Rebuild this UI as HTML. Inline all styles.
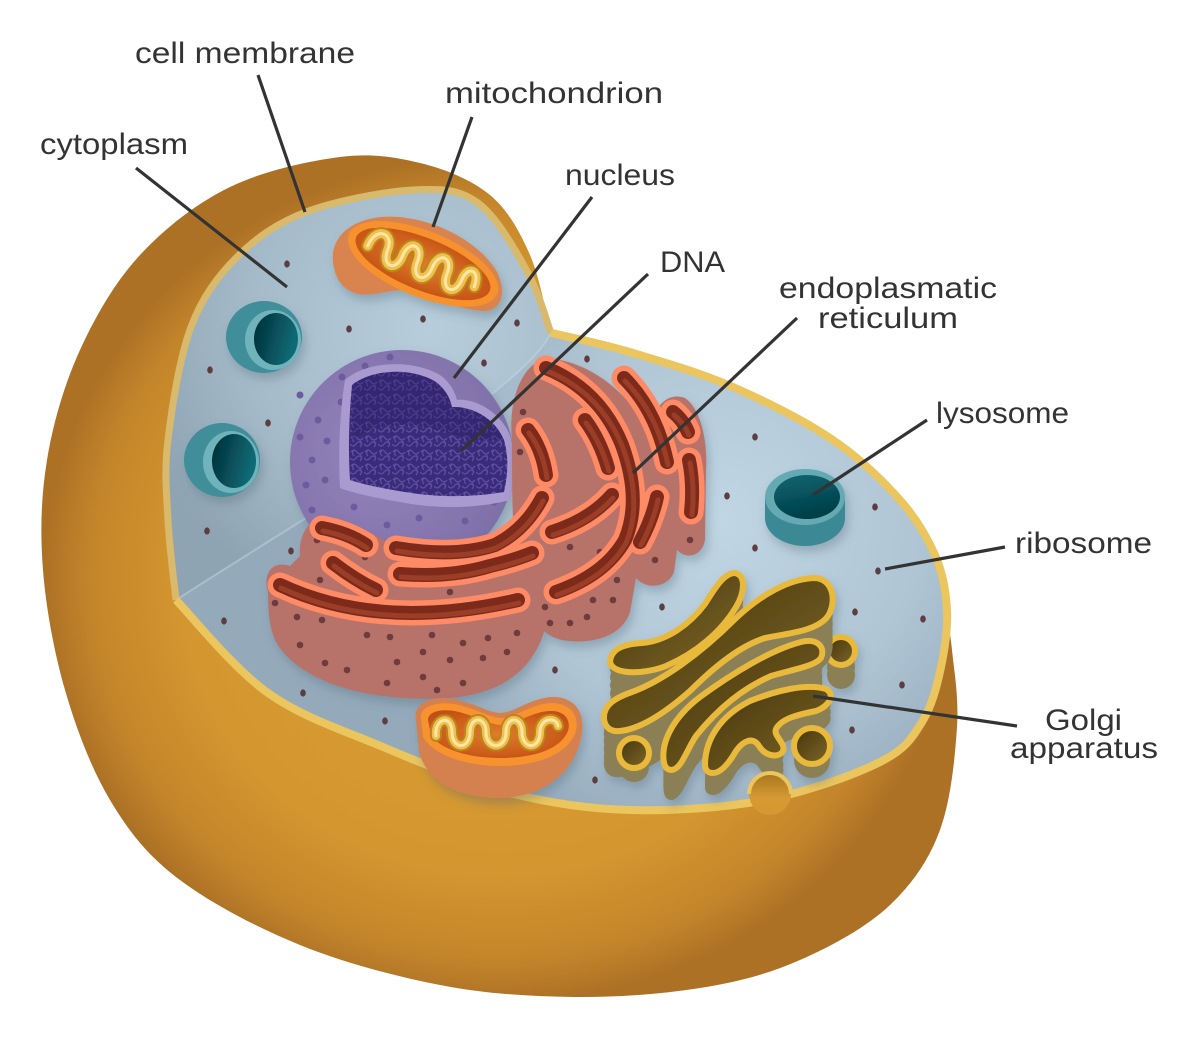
<!DOCTYPE html>
<html><head><meta charset="utf-8"><style>
html,body{margin:0;padding:0;background:#fff;}
svg{display:block;}
text{font-family:"Liberation Sans",sans-serif;font-size:30px;fill:#333;}
.ld{stroke:#333;stroke-width:3.2;fill:none;}
.erRim{fill:none;stroke:#ff8a66;stroke-width:25;stroke-linecap:round;stroke-linejoin:round;}
.erCh{fill:none;stroke:#7e2a1b;stroke-width:14;stroke-linecap:round;stroke-linejoin:round;}
.erCh2{fill:none;stroke:#a3432a;stroke-width:5;stroke-linecap:round;stroke-linejoin:round;opacity:0.8;}
.gw{fill:#8b7f57;}
.go{fill:url(#golgiIn);stroke:#e9b93a;stroke-width:6;}
</style></head><body>
<svg width="1200" height="1038" viewBox="0 0 1200 1038" xmlns="http://www.w3.org/2000/svg">
<defs>
 <radialGradient id="shellG" gradientUnits="userSpaceOnUse" cx="500" cy="578" r="456" gradientTransform="translate(500,578) scale(1,0.93) translate(-500,-578)">
  <stop offset="0" stop-color="#dc9e32"/>
  <stop offset="0.7" stop-color="#d4962f"/>
  <stop offset="0.9" stop-color="#c3852a"/>
  <stop offset="1" stop-color="#ad7126"/>
 </radialGradient>
 <radialGradient id="vertG" gradientUnits="userSpaceOnUse" cx="430" cy="330" r="300">
  <stop offset="0" stop-color="#b7cddb"/>
  <stop offset="0.6" stop-color="#a5bbca"/>
  <stop offset="1" stop-color="#8ea4b3"/>
 </radialGradient>
 <radialGradient id="horG" gradientUnits="userSpaceOnUse" cx="720" cy="520" r="340">
  <stop offset="0" stop-color="#c0d6e4"/>
  <stop offset="0.6" stop-color="#afc5d4"/>
  <stop offset="1" stop-color="#94aabb"/>
 </radialGradient>
 <linearGradient id="vesIn" x1="0" y1="0" x2="1" y2="0.3">
  <stop offset="0" stop-color="#002c35"/>
  <stop offset="1" stop-color="#0e6b76"/>
 </linearGradient>
 <linearGradient id="lysIn" x1="0" y1="0" x2="0.3" y2="1">
  <stop offset="0" stop-color="#0b6671"/>
  <stop offset="1" stop-color="#033f49"/>
 </linearGradient>
 <linearGradient id="golgiIn" x1="0" y1="0" x2="1" y2="1">
  <stop offset="0" stop-color="#463407"/>
  <stop offset="1" stop-color="#7d682c"/>
 </linearGradient>
 <radialGradient id="mitoIn" cx="0.5" cy="0.5" r="0.6">
  <stop offset="0" stop-color="#e27a2c"/>
  <stop offset="1" stop-color="#c24f12"/>
 </radialGradient>
 <radialGradient id="nucG" cx="0.4" cy="0.45" r="0.6">
  <stop offset="0" stop-color="#9585bd"/>
  <stop offset="1" stop-color="#8070a9"/>
 </radialGradient>
 <linearGradient id="bumpG" x1="0" y1="0" x2="0" y2="1">
  <stop offset="0" stop-color="#a8761e"/>
  <stop offset="0.6" stop-color="#d59a33"/>
  <stop offset="1" stop-color="#d6982f"/>
 </linearGradient>
 <pattern id="dna" width="14" height="14" patternUnits="userSpaceOnUse">
  <rect width="14" height="14" fill="#3b2c7a"/>
  <path d="M1,4 q3,-4 6,0 t6,0 M0,10 q3,4 6,0 t6,0 M4,2 q-3,3 0,6 M10,7 q3,3 0,6" stroke="#5d4fa4" stroke-width="1.3" fill="none"/>
 </pattern>
 <filter id="sh" x="-20%" y="-20%" width="140%" height="140%">
  <feDropShadow dx="3" dy="6" stdDeviation="5" flood-color="#4f6777" flood-opacity="0.35"/>
 </filter>
 <path id="erc" d="M322,528 Q348,533 366,545 M396,548 Q455,558 495,545 Q525,530 542,498 M333,563 Q355,580 376,590 M400,574 Q450,578 490,566 Q515,560 532,553 M280,585 Q380,632 518,600 M546,368 Q600,390 622,445 Q642,500 625,540 Q605,575 556,592 M528,430 Q542,448 546,475 M585,420 Q600,440 608,468 M552,532 Q590,520 612,495 M624,378 Q656,410 667,462 M673,412 Q683,420 688,432 M689,460 Q694,485 691,512 M657,497 Q652,520 640,542"/>
 <path id="gT1" d="M610,662 C611,648 625,644 642,643 C667,641 690,624 705,604 C715,588 724,573 735,573 C746,575 745,592 736,607 C721,632 696,653 666,666 C646,674 613,676 610,662 Z"/>
 <path id="gT2" d="M604,719 C603,705 615,698 632,692 C662,681 700,654 734,620 C760,595 790,578 816,578 C833,580 837,601 828,616 C817,631 790,633 765,638 C740,646 715,666 690,691 C665,713 640,729 620,731 C610,732 605,727 604,719 Z"/>
 <path id="gT3" d="M664,763 C660,741 675,716 700,697 C730,675 770,650 801,642 C816,638 826,646 821,658 C815,666 795,669 771,676 C741,689 716,711 696,736 C686,751 682,768 672,770 C667,770 665,767 664,763 Z"/>
 <path id="gT4" d="M705,765 C705,740 720,716 750,701 C775,691 806,683 826,689 C836,695 829,706 816,711 C796,715 781,719 776,729 C773,736 786,743 783,751 C779,758 766,757 759,746 C753,736 743,741 736,751 C729,763 721,773 713,773 C708,773 705,770 705,765 Z"/>
 <circle id="gA" cx="634" cy="753" r="15"/>
 <circle id="gB" cx="841" cy="651" r="14"/>
 <circle id="gC" cx="812" cy="746" r="18"/>
</defs>

<rect width="1200" height="1038" fill="#fff"/>

<!-- outer shell -->
<path fill="url(#shellG)" d="M551,333 C547.5,320 540,278 530,255 C520,232 508,210 490,195 C472,180 445,169 420,163 C395,157 372,153 340,157 C308,161 263,171 230,187 C197,203 165,228 140,255 C115,282 95.5,316 80,350 C64.5,384 53,423 47,460 C41,497 40,532 43,570 C46,608 54,652 65,690 C76,728 91,768 110,800 C129,832 148,856 180,880 C212,904 257,927.5 300,945 C343,962.5 394,976 440,985 C486,994 531,996.5 574,997 C617,997.5 662,994 700,988 C738,982 768,974 800,960 C832,946 867,927 890,905 C913,883 929,860 940,830 C951,800 955,757 957,727 C959,697 954,670 952,650 C950,630 946,612 945,605 L947,610 C946,591 943,573 935,555 C927,537 917,519 900,500 C883,481 861,459 833,440 C805,421 766,401.5 733,387 C700,372.5 663,362 633,353 C603,344 565,336 551,333 Z"/>

<!-- interior: horizontal plane (whole) -->
<path fill="url(#horG)" d="M176,600 C174.7,586.7 169.3,546.7 168,520 C166.7,493.3 164,472 168,440 C171.8,408 179.5,357.5 191,327 C202.5,296.5 218,276 237,257 C256,238 277,223 306,212 C335,201 384,191.5 413,190 C441.7,188.5 459,189 478,203 C497,217 516,251 528,273 C540,295 547,323 551,333 C565,336 603,344 633,353 C663,362 700,372.5 733,387 C766,401.5 805,421 833,440 C861,459 883,481 900,500 C917,519 927,537 935,555 C943,573 946,591 947,610 C948,629 945,648 941,667 C937,686 932,706 922,722 C912,738 906,749 880,762 C854,775 806.5,792 765,800 C723.5,808 673.5,811 631,810 C588.5,809 551,803.5 510,793 C469,782.5 423,764 383,747 C343,730 302.5,717.5 268,693 C233.5,668.5 191,615.5 176,600 Z"/>
<!-- vertical plane -->
<path fill="url(#vertG)" d="M176,600 C174.7,586.7 169.3,546.7 168,520 C166.7,493.3 164,472 168,440 C171.8,408 179.5,357.5 191,327 C202.5,296.5 218,276 237,257 C256,238 277,223 306,212 C335,201 384,191.5 413,190 C441.7,188.5 459,189 478,203 C497,217 516,251 528,273 C540,295 547,323 551,333 C520,395 330,500 176,600 Z"/>
<path d="M551,333 C520,395 330,500 176,600" fill="none" stroke="#c6d9e6" stroke-width="2" opacity="0.45"/>

<!-- membranes -->
<path fill="none" stroke="#d9b96b" stroke-width="7" d="M176,600 C174.7,586.7 169.3,546.7 168,520 C166.7,493.3 164,472 168,440 C171.8,408 179.5,357.5 191,327 C202.5,296.5 218,276 237,257 C256,238 277,223 306,212 C335,201 384,191.5 413,190 C441.7,188.5 459,189 478,203 C497,217 516,251 528,273 C540,295 547,323 551,333"/>
<path fill="none" stroke="#ebc55e" stroke-width="8" d="M551,333 C565,336 603,344 633,353 C663,362 700,372.5 733,387 C766,401.5 805,421 833,440 C861,459 883,481 900,500 C917,519 927,537 935,555 C943,573 946,591 947,610 C948,629 945,648 941,667 C937,686 932,706 922,722 C912,738 906,749 880,762 C854,775 806.5,792 765,800 C723.5,808 673.5,811 631,810 C588.5,809 551,803.5 510,793 C469,782.5 423,764 383,747 C343,730 302.5,717.5 268,693 C233.5,668.5 191,615.5 176,600"/>

<!-- ribosomes -->
<g fill="#5c3d40">
 <ellipse cx="287" cy="264" rx="2.8" ry="3.6"/><ellipse cx="423" cy="319" rx="2.8" ry="3.6"/>
 <ellipse cx="349" cy="329" rx="2.8" ry="3.6"/><ellipse cx="517" cy="323" rx="2.8" ry="3.6"/>
 <ellipse cx="210" cy="370" rx="2.8" ry="3.6"/><ellipse cx="484" cy="363" rx="2.8" ry="3.6"/>
 <ellipse cx="268" cy="423" rx="2.8" ry="3.6"/><ellipse cx="207" cy="531" rx="2.8" ry="3.6"/>
 <ellipse cx="291" cy="551" rx="2.8" ry="3.6"/><ellipse cx="587" cy="359" rx="2.8" ry="3.6"/>
 <ellipse cx="755" cy="437" rx="2.8" ry="3.6"/><ellipse cx="727" cy="496" rx="2.8" ry="3.6"/>
 <ellipse cx="875" cy="507" rx="2.8" ry="3.6"/><ellipse cx="755" cy="548" rx="2.8" ry="3.6"/>
 <ellipse cx="878" cy="571" rx="2.8" ry="3.6"/><ellipse cx="662" cy="607" rx="2.8" ry="3.6"/>
 <ellipse cx="855" cy="612" rx="2.8" ry="3.6"/><ellipse cx="923" cy="619" rx="2.8" ry="3.6"/>
 <ellipse cx="555" cy="670" rx="2.8" ry="3.6"/><ellipse cx="902" cy="685" rx="2.8" ry="3.6"/>
 <ellipse cx="852" cy="730" rx="2.8" ry="3.6"/><ellipse cx="595" cy="780" rx="2.8" ry="3.6"/>
 <ellipse cx="224" cy="621" rx="2.8" ry="3.6"/><ellipse cx="303" cy="693" rx="2.8" ry="3.6"/>
 <ellipse cx="385" cy="721" rx="2.8" ry="3.6"/>
</g>

<!-- left vesicles -->
<g filter="url(#sh)">
 <ellipse cx="264" cy="337" rx="38" ry="36" fill="#3f8e99"/>
 <ellipse cx="273" cy="340" rx="28" ry="30" fill="#6fb3bb"/>
 <ellipse cx="276" cy="339" rx="22" ry="26" fill="url(#vesIn)"/>
 <ellipse cx="222" cy="460" rx="38" ry="37" fill="#3f8e99"/>
 <ellipse cx="231" cy="462" rx="28" ry="31" fill="#6fb3bb"/>
 <ellipse cx="234" cy="461" rx="22" ry="27" fill="url(#vesIn)"/>
</g>

<!-- top mitochondrion -->
<g filter="url(#sh)">
 <path fill="#d9844f" d="M333,262 C330,232 360,214 398,217 C440,220 482,245 497,272 C507,292 502,312 482,311 C460,309 440,300 418,292 C395,286 378,297 358,294 C342,290 335,278 333,262 Z"/>
 <g transform="translate(423,264) rotate(22)">
  <ellipse cx="0" cy="0" rx="80" ry="33" fill="#f7912f"/>
  <ellipse cx="0" cy="0" rx="72" ry="26" fill="url(#mitoIn)"/>
  <path d="M-58,4 C-58,-18 -38,-18 -38,0 C-38,18 -22,18 -22,0 C-22,-18 -6,-18 -6,0 C-6,18 10,18 10,0 C10,-18 26,-18 26,0 C26,18 42,18 42,0 C42,-16 56,-16 56,2" fill="none" stroke="#b9861f" stroke-width="13" stroke-linecap="round"/>
  <path d="M-58,4 C-58,-18 -38,-18 -38,0 C-38,18 -22,18 -22,0 C-22,-18 -6,-18 -6,0 C-6,18 10,18 10,0 C10,-18 26,-18 26,0 C26,18 42,18 42,0 C42,-16 56,-16 56,2" fill="none" stroke="#f2bf4f" stroke-width="9" stroke-linecap="round"/>
  <path d="M-58,4 C-58,-18 -38,-18 -38,0 C-38,18 -22,18 -22,0 C-22,-18 -6,-18 -6,0 C-6,18 10,18 10,0 C10,-18 26,-18 26,0 C26,18 42,18 42,0 C42,-16 56,-16 56,2" fill="none" stroke="#fde6a4" stroke-width="3" stroke-linecap="round"/>
 </g>
</g>

<!-- nucleus -->
<g filter="url(#sh)">
 <circle cx="402" cy="462" r="112" fill="url(#nucG)"/>
</g>
<g fill="#6d5b9e">
 <circle cx="365" cy="366" r="3.5"/><circle cx="390" cy="357" r="3.5"/><circle cx="342" cy="377" r="3.5"/>
 <circle cx="341" cy="402" r="3.5"/><circle cx="318" cy="420" r="3.5"/><circle cx="327" cy="441" r="3.5"/>
 <circle cx="300" cy="437" r="3.5"/><circle cx="312" cy="460" r="3.5"/><circle cx="325" cy="480" r="3.5"/>
 <circle cx="306" cy="485" r="3.5"/><circle cx="354" cy="507" r="3.5"/><circle cx="419" cy="518" r="3.5"/>
 <circle cx="465" cy="521" r="3.5"/><circle cx="494" cy="502" r="3.5"/><circle cx="387" cy="525" r="3.5"/>
 <circle cx="344" cy="530" r="3.5"/><circle cx="312" cy="510" r="3.5"/><circle cx="300" cy="395" r="3.5"/>
</g>
<path fill="#a99ad0" d="M345,380 C365,362 410,358 440,375 C450,382 455,392 457,400 C475,398 500,412 510,435 C516,455 515,480 510,500 C480,508 440,510 400,502 C370,497 350,492 340,488 C338,450 340,410 345,380 Z"/>
<path fill="url(#dna)" d="M352,385 C370,370 410,366 436,382 C446,390 450,398 452,407 C472,406 495,418 504,440 C509,457 508,475 504,492 C475,497 440,498 405,492 C380,488 362,484 350,480 C348,450 349,415 352,385 Z"/>
<path fill="#2a1d60" opacity="0.35" d="M352,385 C370,370 410,366 436,382 C446,390 450,398 452,407 C472,406 495,418 504,440 L470,440 C420,420 380,420 352,440 Z"/>

<!-- ER -->
<g filter="url(#sh)">
 <path fill="#b7736a" d="M512,440 C508,400 522,362 548,358 C590,362 628,392 648,430 C655,405 668,392 685,398 C700,408 708,440 706,470 L705,540 C702,556 687,560 677,550 L674,572 C668,588 646,590 636,578 L630,612 C622,638 588,645 562,640 C535,634 522,605 516,565 C512,525 512,480 512,440 Z"/>
 <path fill="#b7736a" d="M268,592 C262,572 274,560 290,566 L300,556 C298,530 313,514 335,518 C352,522 372,533 386,541 C402,536 468,546 498,530 C520,518 534,494 546,484 L550,600 C546,652 520,692 450,698 C370,703 300,683 276,642 C269,628 268,608 268,592 Z"/>
</g>
<g fill="#6e3c3d">
 <circle cx="275" cy="603" r="3.3"/><circle cx="297" cy="617" r="3.3"/><circle cx="322" cy="620" r="3.3"/>
 <circle cx="300" cy="645" r="3.3"/><circle cx="325" cy="663" r="3.3"/><circle cx="347" cy="670" r="3.3"/>
 <circle cx="367" cy="635" r="3.3"/><circle cx="390" cy="637" r="3.3"/><circle cx="397" cy="662" r="3.3"/>
 <circle cx="423" cy="652" r="3.3"/><circle cx="432" cy="635" r="3.3"/><circle cx="450" cy="660" r="3.3"/>
 <circle cx="463" cy="643" r="3.3"/><circle cx="483" cy="658" r="3.3"/><circle cx="488" cy="638" r="3.3"/>
 <circle cx="507" cy="652" r="3.3"/><circle cx="517" cy="633" r="3.3"/><circle cx="387" cy="683" r="3.3"/>
 <circle cx="423" cy="677" r="3.3"/><circle cx="463" cy="683" r="3.3"/><circle cx="437" cy="690" r="3.3"/>
 <circle cx="523" cy="412" r="3.3"/><circle cx="520" cy="452" r="3.3"/><circle cx="552" cy="480" r="3.3"/>
 <circle cx="583" cy="528" r="3.3"/><circle cx="600" cy="552" r="3.3"/><circle cx="618" cy="560" r="3.3"/>
 <circle cx="570" cy="547" r="3.3"/><circle cx="597" cy="573" r="3.3"/><circle cx="617" cy="580" r="3.3"/>
 <circle cx="565" cy="597" r="3.3"/><circle cx="593" cy="600" r="3.3"/><circle cx="587" cy="617" r="3.3"/>
 <circle cx="613" cy="600" r="3.3"/><circle cx="598" cy="447" r="3.3"/><circle cx="603" cy="467" r="3.3"/>
 <circle cx="645" cy="510" r="3.3"/><circle cx="662" cy="500" r="3.3"/><circle cx="545" cy="607" r="3.3"/>
 <circle cx="550" cy="623" r="3.3"/><circle cx="570" cy="623" r="3.3"/><circle cx="655" cy="560" r="3.3"/>
 <circle cx="690" cy="540" r="3.3"/><circle cx="317" cy="540" r="3.3"/><circle cx="320" cy="580" r="3.3"/>
 <circle cx="365" cy="557" r="3.3"/><circle cx="435" cy="563" r="3.3"/><circle cx="450" cy="592" r="3.3"/>
</g>
<use href="#erc" class="erRim"/>
<use href="#erc" class="erCh"/>
<use href="#erc" class="erCh2" transform="translate(1,3)"/>

<!-- lysosome -->
<g filter="url(#sh)">
 <path fill="#3a8994" d="M765,497 L765,518 A40,28 0 0 0 845,518 L845,497 Z"/>
 <ellipse cx="805" cy="497" rx="40" ry="28" fill="#65aab3"/>
 <ellipse cx="807" cy="497" rx="33" ry="22" fill="url(#lysIn)"/>
</g>

<!-- Golgi -->
<g filter="url(#sh)">
 <g class="gw"><use href="#gB" y="8"/><use href="#gB" y="16"/><use href="#gB" y="24"/></g>
 <use href="#gB" class="go"/>
 <g class="gw"><use href="#gT1" y="8"/><use href="#gT1" y="16"/><use href="#gT1" y="24"/><use href="#gT1" y="32"/><use href="#gT1" y="40"/></g>
 <use href="#gT1" class="go"/>
 <g class="gw"><use href="#gT2" y="8"/><use href="#gT2" y="16"/><use href="#gT2" y="24"/><use href="#gT2" y="32"/><use href="#gT2" y="40"/><use href="#gT2" y="46"/></g>
 <use href="#gT2" class="go"/>
 <g class="gw"><use href="#gT3" y="8"/><use href="#gT3" y="16"/><use href="#gT3" y="24"/><use href="#gT3" y="30"/></g>
 <use href="#gT3" class="go"/>
 <g class="gw"><use href="#gT4" y="8"/><use href="#gT4" y="16"/><use href="#gT4" y="22"/></g>
 <use href="#gT4" class="go"/>
 <g class="gw"><use href="#gC" y="8"/><use href="#gC" y="14"/></g>
 <use href="#gC" class="go"/>
 <g class="gw"><use href="#gA" y="8"/><use href="#gA" y="14"/></g>
 <use href="#gA" class="go"/>
</g>

<!-- bottom mitochondrion -->
<g filter="url(#sh)">
 <path fill="#d4804f" d="M416,720 C412,702 435,694 458,700 C478,705 490,713 500,713 C515,713 532,696 556,697 C578,699 586,716 581,738 C574,772 545,797 500,798 C455,798 427,780 419,752 Z"/>
 <path fill="#f7922e" d="M421,718 C419,706 440,700 459,705 C479,710 491,718 501,718 C516,718 533,702 554,703 C573,705 579,717 576,731 C569,753 540,766 500,766 C462,766 432,753 423,737 Z"/>
 <path fill="url(#mitoIn)" d="M428,720 C428,711 443,708 459,712 C478,717 491,725 501,725 C516,725 533,710 553,711 C566,712 571,721 568,731 C561,748 537,758 500,758 C466,758 439,748 431,735 Z"/>
 <path d="M436,736 C434,718 452,714 452,732 C452,750 470,750 470,732 C470,716 486,716 486,732 C486,750 506,750 506,732 C506,716 522,716 522,732 C522,750 540,750 540,732 C540,718 556,716 558,726" fill="none" stroke="#b9861f" stroke-width="12" stroke-linecap="round"/>
 <path d="M436,736 C434,718 452,714 452,732 C452,750 470,750 470,732 C470,716 486,716 486,732 C486,750 506,750 506,732 C506,716 522,716 522,732 C522,750 540,750 540,732 C540,718 556,716 558,726" fill="none" stroke="#f2bf4f" stroke-width="8" stroke-linecap="round"/>
 <path d="M436,736 C434,718 452,714 452,732 C452,750 470,750 470,732 C470,716 486,716 486,732 C486,750 506,750 506,732 C506,716 522,716 522,732 C522,750 540,750 540,732 C540,718 556,716 558,726" fill="none" stroke="#fde6a4" stroke-width="3" stroke-linecap="round"/>
</g>

<!-- budding vesicle -->
<circle cx="770" cy="794" r="21" fill="url(#bumpG)"/>
<path d="M749,794 A21,21 0 0 1 791,794" fill="none" stroke="#ebc55e" stroke-width="4"/>

<!-- leader lines -->
<line class="ld" x1="258" y1="75" x2="305" y2="212"/>
<line class="ld" x1="472" y1="117" x2="433" y2="227"/>
<line class="ld" x1="136" y1="168" x2="287" y2="287"/>
<line class="ld" x1="592" y1="197" x2="454" y2="378"/>
<line class="ld" x1="648" y1="274" x2="461" y2="451"/>
<line class="ld" x1="797" y1="318" x2="633" y2="473"/>
<line class="ld" x1="927" y1="420" x2="813" y2="495"/>
<line class="ld" x1="1005" y1="547" x2="885" y2="569"/>
<line class="ld" x1="1017" y1="726" x2="813" y2="696"/>

<!-- labels -->
<text x="135" y="63" textLength="220" lengthAdjust="spacingAndGlyphs">cell membrane</text>
<text x="445" y="103" textLength="218" lengthAdjust="spacingAndGlyphs">mitochondrion</text>
<text x="40" y="154" textLength="148" lengthAdjust="spacingAndGlyphs">cytoplasm</text>
<text x="565" y="185" textLength="110" lengthAdjust="spacingAndGlyphs">nucleus</text>
<text x="660" y="272" textLength="65" lengthAdjust="spacingAndGlyphs">DNA</text>
<text x="779" y="298" textLength="218" lengthAdjust="spacingAndGlyphs">endoplasmatic</text>
<text x="818" y="328" textLength="140" lengthAdjust="spacingAndGlyphs">reticulum</text>
<text x="936" y="423" textLength="133" lengthAdjust="spacingAndGlyphs">lysosome</text>
<text x="1015" y="553" textLength="137" lengthAdjust="spacingAndGlyphs">ribosome</text>
<text x="1045" y="730" textLength="77" lengthAdjust="spacingAndGlyphs">Golgi</text>
<text x="1010" y="758" textLength="148" lengthAdjust="spacingAndGlyphs">apparatus</text>
</svg>
</body></html>
